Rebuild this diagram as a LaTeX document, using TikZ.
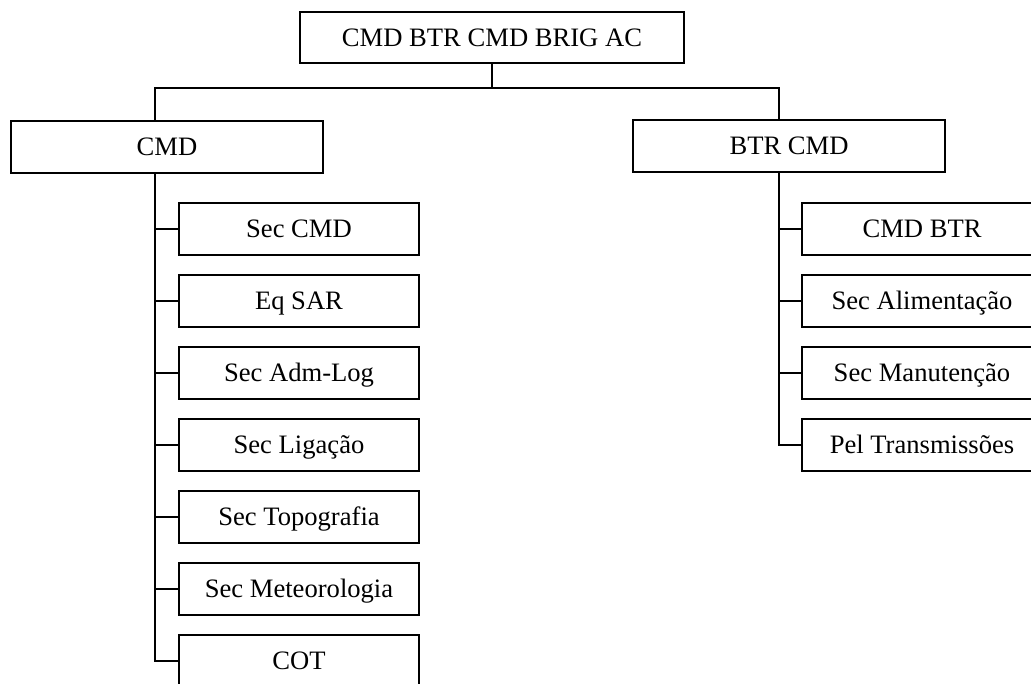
\documentclass[tikz,border=0pt]{standalone}
\usepackage{fontspec}
\setmainfont{Liberation Serif}
\begin{document}
\begin{tikzpicture}[x=1pt, y=-1pt, line width=2pt,
  box/.style={draw, rectangle, inner sep=0pt, font=\fontsize{26.6}{30}\selectfont,
    text height=17.5pt, text depth=0pt},
  unitbox/.style={box, minimum width=312pt, minimum height=52pt},
  subbox/.style={box, minimum width=240pt, minimum height=52pt}]
  % page frame; the right-hand column runs past the edge
  \clip (0,0) rectangle (1031,684);

  % top level
  \node[box, minimum width=384pt, minimum height=51pt] (root) at (492,37.5) {CMD BTR CMD BRIG AC};

  % second level
  \node[unitbox] (cmd) at (167,147) {CMD};
  \node[unitbox] (btr) at (789,146) {BTR CMD};

  % CMD sections
  \node[subbox] (seccmd) at (299,229) {Sec CMD};
  \node[subbox] (eqsar)  at (299,301) {Eq SAR};
  \node[subbox] (admlog) at (299,373) {Sec Adm-Log};
  \node[subbox] (lig)    at (299,445) {Sec Ligação};
  \node[subbox] (topo)   at (299,517) {Sec Topografia};
  \node[subbox] (meteo)  at (299,589) {Sec Meteorologia};
  \node[subbox] (cot)    at (299,661) {COT};

  % BTR CMD sections
  \node[subbox] (cmdbtr) at (922,229) {CMD BTR};
  \node[subbox] (alim)   at (922,301) {Sec Alimentação};
  \node[subbox] (manut)  at (922,373) {Sec Manutenção};
  \node[subbox] (transm) at (922,445) {Pel Transmissões};

  % connector junctions
  \coordinate (bus) at (492,88);
  \coordinate (lx) at (155,88);
  \coordinate (rx) at (779,88);

  \draw (root.south) -- (bus);
  \draw (cmd.north -| lx) -- (lx) -- (rx) -- (btr.north -| rx);

  \draw (cmd.south -| lx) |- (cot.west);
  \foreach \n in {seccmd,eqsar,admlog,lig,topo,meteo}
    \draw (\n.west -| lx) -- (\n.west);

  \draw (btr.south -| rx) |- (transm.west);
  \foreach \n in {cmdbtr,alim,manut}
    \draw (\n.west -| rx) -- (\n.west);
\end{tikzpicture}
\end{document}
